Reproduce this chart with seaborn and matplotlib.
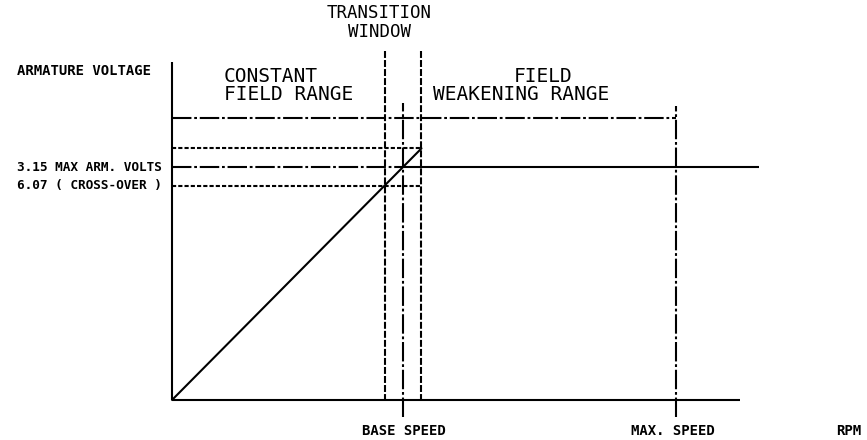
"""
Armature voltage vs. speed: constant field / field weakening ranges.
Re-drawn as a simple line sketch with seaborn + matplotlib.
"""

import matplotlib
matplotlib.use('Agg')
import matplotlib.pyplot as plt
import seaborn as sns
import pandas as pd

# ─── Chart data (speed in % of base speed, voltage in % of max arm. volts) ───
BASE_SPEED = 100
TRANS_LO = 92          # transition window start
TRANS_HI = 108         # transition window end
MAX_SPEED = 218

V_CROSS = 92           # cross-over voltage
V_MAX = 100            # max armature volts
V_TOP = 108            # top of transition
V_FIELD = 121          # field range bracket level

AXIS_X_END = 246
AXIS_Y_END = 145
MAXV_LINE_END = 254

ramp_speed = [0, TRANS_HI]
ramp_volts = [0, V_TOP]

left_labels = ['ARMATURE VOLTAGE', '3.15 MAX ARM. VOLTS', '6.07 ( CROSS-OVER )']
bottom_labels = ['BASE SPEED', 'MAX. SPEED', 'RPM']

# ─── Styles ──────────────────────────────────────────────────────────────────
INK = 'black'
LW = 1.5
DASHDOT = (0, (14, 2, 2, 2))
DASHED = (0, (3, 1.5))
DASHED_V = (0, (5, 1.5))

sns.set_style('white')
plt.rcParams['lines.scale_dashes'] = False
MONO = ['DejaVu Sans Mono']

fig = plt.figure(figsize=(8.67, 4.4), dpi=100)
ax = fig.add_axes([0, 0, 1, 1])
ax.set_xlim(-74.5, 300.9)
ax.set_ylim(-17.2, 171.7)
ax.axis('off')

# axes of the sketch
ax.vlines(0, 0, AXIS_Y_END, color=INK, lw=LW)
ax.hlines(0, 0, AXIS_X_END, color=INK, lw=LW)

# voltage ramp in the constant field range
df = pd.DataFrame({'rpm': ramp_speed, 'volts': ramp_volts})
sns.lineplot(data=df, x='rpm', y='volts', color=INK, lw=LW, ax=ax)

# horizontal reference levels
ax.hlines(V_FIELD, 0, MAX_SPEED, color=INK, lw=LW, linestyles=[DASHDOT])
ax.hlines(V_TOP, 0, TRANS_HI, color=INK, lw=LW, linestyles=[DASHED])
ax.hlines(V_MAX, 0, BASE_SPEED, color=INK, lw=LW, linestyles=[DASHDOT])
ax.hlines(V_MAX, BASE_SPEED, MAXV_LINE_END, color=INK, lw=LW)
ax.hlines(V_CROSS, 0, TRANS_HI, color=INK, lw=LW, linestyles=[DASHED])

# vertical markers
ax.vlines([TRANS_LO, TRANS_HI], -0.5, 150.6, color=INK, lw=LW, linestyles=[DASHED_V])
ax.vlines(BASE_SPEED, -7.3, 127.5, color=INK, lw=LW, linestyles=[DASHDOT])
ax.vlines(MAX_SPEED, -7.3, 126.2, color=INK, lw=LW, linestyles=[DASHDOT])

# labels
small = dict(fontsize=10, fontweight='bold', family=MONO, va='center', color=INK)
ax.text(-67.1, 141.2, left_labels[0], ha='left', **small)
small_narrow = dict(small, fontsize=9.2)
ax.text(-67.1, V_MAX, left_labels[1], ha='left', **small_narrow)
ax.text(-67.1, V_CROSS, left_labels[2], ha='left', **small_narrow)

big = dict(fontsize=14, family=MONO, va='center', color=INK)
ax.text(22.5, 139, 'CONSTANT', ha='left', **big)
ax.text(22.5, 131.3, 'FIELD RANGE', ha='left', **big)
ax.text(160.6, 139, 'FIELD', ha='center', **big)
ax.text(151, 131.3, 'WEAKENING RANGE', ha='center', **big)
title = dict(big, fontsize=12.5)
ax.text(89.6, 166.1, 'TRANSITION', ha='center', **title)
ax.text(90, 157.9, 'WINDOW', ha='center', **title)

ax.text(100.4, -13.3, bottom_labels[0], ha='center', **small)
ax.text(216.9, -13.3, bottom_labels[1], ha='center', **small)
ax.text(293, -13.3, bottom_labels[2], ha='center', **small)

fig.savefig('out.png', dpi=100, facecolor='white')
